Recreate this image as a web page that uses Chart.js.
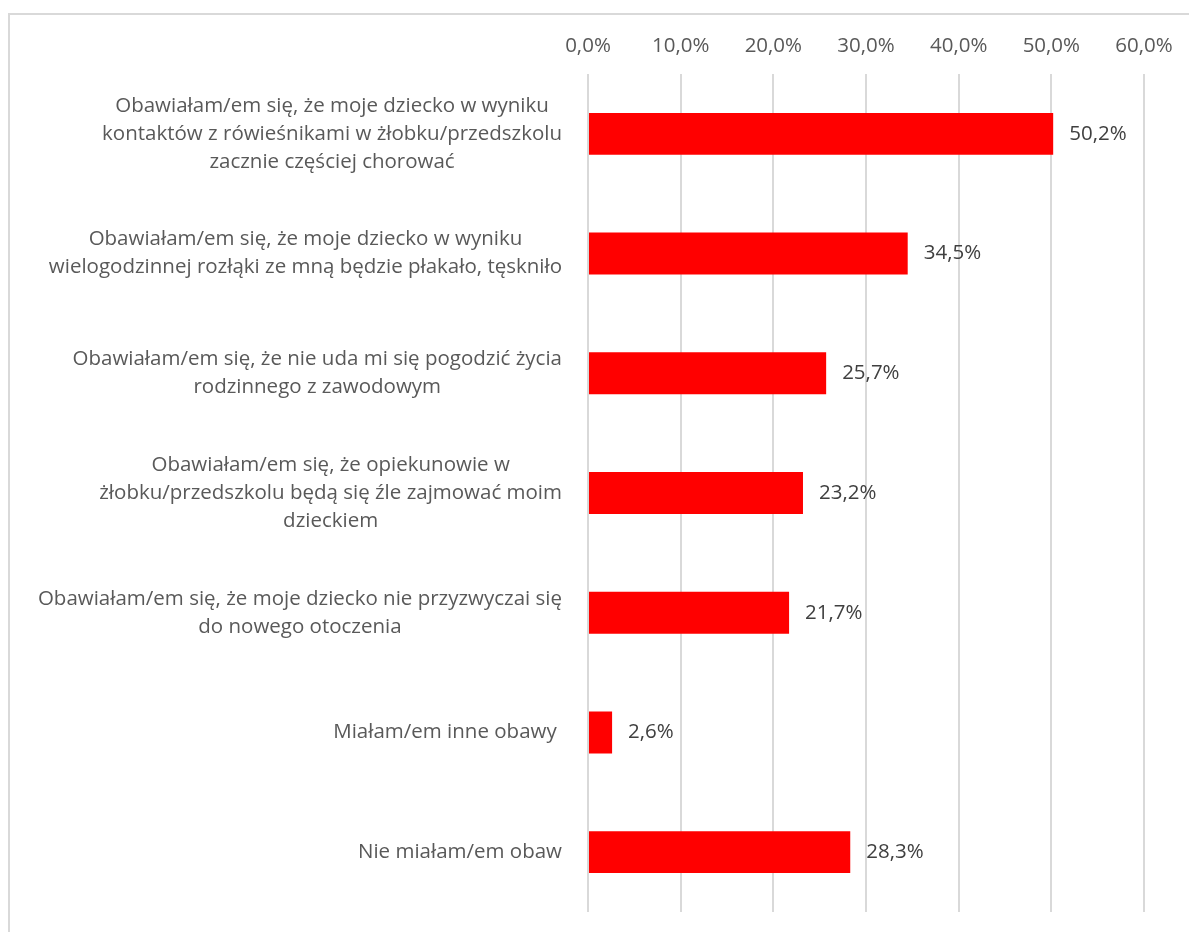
<!DOCTYPE html>
<html>
<head>
<meta charset="utf-8">
<script src="https://cdn.jsdelivr.net/npm/chart.js@4.4.1/dist/chart.umd.min.js"></script>
<style>
  body { margin: 0; background: #fff; overflow: hidden; }
  #frame { position: absolute; left: 8px; top: 13px; width: 1300px; height: 1000px; border: 2px solid #d9d9d9; }
  #chart { position: absolute; left: 0; top: 0; }
</style>
</head>
<body>
<div id="frame"></div>
<canvas id="chart" width="1189" height="932"></canvas>
<script>
// categories, top to bottom
const categories = [
    ['Obawiałam/em się, że moje dziecko w wyniku', 'kontaktów z rówieśnikami w żłobku/przedszkolu', 'zacznie częściej chorować'],
    ['Obawiałam/em się, że moje dziecko w wyniku', 'wielogodzinnej rozłąki ze mną będzie płakało, tęskniło'],
    ['Obawiałam/em się, że nie uda mi się pogodzić życia', 'rodzinnego z zawodowym'],
    ['Obawiałam/em się, że opiekunowie w', 'żłobku/przedszkolu będą się źle zajmować moim', 'dzieckiem'],
    ['Obawiałam/em się, że moje dziecko nie przyzwyczai się', 'do nowego otoczenia'],
    ['Miałam/em inne obawy '],
    ['Nie miałam/em obaw']
];
const values = [50.2, 34.5, 25.7, 23.2, 21.7, 2.6, 28.3];
const tickValues = [0, 10, 20, 30, 40, 50, 60];

const FONT = '"Open Sans", Lato, sans-serif';
const FONT_SIZE = 20.5;
const fmt = v => v.toFixed(1).replace('.', ',') + '%';

// draws the category labels (right-aligned block, centred lines) and value labels
const labelPlugin = {
    id: 'labels',
    afterDatasetsDraw(chart) {
        const ctx = chart.ctx;
        const x = chart.scales.x;
        const y = chart.scales.y;
        ctx.save();
        ctx.font = FONT_SIZE + 'px ' + FONT;
        ctx.textBaseline = 'middle';
        const lineH = 28;

        categories.forEach((lines, i) => {
            const cy = y.getPixelForValue(i);
            const maxW = Math.max(...lines.map(l => ctx.measureText(l).width));
            const right = chart.chartArea.left - 26;
            const cx = right - maxW / 2;
            ctx.fillStyle = '#595959';
            ctx.textAlign = 'center';
            lines.forEach((l, k) => {
                ctx.fillText(l, cx, cy + (k - (lines.length - 1) / 2) * lineH);
            });
        });

        ctx.fillStyle = '#404040';
        ctx.textAlign = 'left';
        values.forEach((v, i) => {
            ctx.fillText(fmt(v), x.getPixelForValue(v) + 16, y.getPixelForValue(i));
        });
        ctx.restore();
    }
};

new Chart(document.getElementById('chart').getContext('2d'), {
    type: 'bar',
    data: {
        labels: categories,
        datasets: [{
            data: values,
            backgroundColor: '#ff0000',
            borderWidth: 0,
            barPercentage: 0.35,
            categoryPercentage: 1
        }]
    },
    options: {
        indexAxis: 'y',
        responsive: false,
        animation: false,
        layout: { padding: { left: 0, right: 45, top: 0, bottom: 20 } },
        plugins: { legend: { display: false }, tooltip: { enabled: false } },
        scales: {
            x: {
                position: 'top',
                min: 0,
                max: 60,
                afterBuildTicks: s => { s.ticks = tickValues.map(v => ({ value: v })); },
                afterFit: s => { s.height = 74; },
                grid: { color: '#d9d9d9', lineWidth: 2, drawTicks: false },
                border: { display: false },
                ticks: {
                    callback: v => fmt(v),
                    color: '#595959',
                    font: { family: FONT, size: FONT_SIZE },
                    padding: 16
                }
            },
            y: {
                afterFit: s => { s.width = 588; },
                grid: { display: false },
                border: { display: false },
                ticks: { display: false }
            }
        }
    },
    plugins: [labelPlugin]
});
</script>
</body>
</html>
